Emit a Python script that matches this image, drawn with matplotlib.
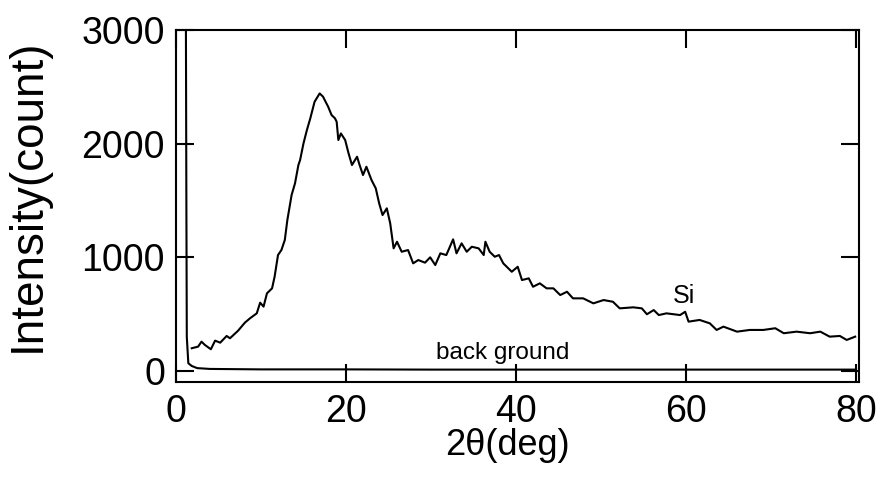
import numpy as np
import matplotlib
matplotlib.use("Agg")
import matplotlib.pyplot as plt

plt.rcParams['font.family'] = ['Liberation Sans', 'DejaVu Sans']

# Si sample curve
si_x = [1.85, 2.6, 3.0, 3.4, 4.1, 4.6, 5.2, 5.96, 6.35, 7.3, 8.1, 8.7, 9.5, 9.9,
        10.3, 10.7, 11.3, 11.6, 12.0, 12.4, 12.8, 13.1, 13.6, 14.0, 14.4, 14.6,
        15.0, 15.4, 15.8, 16.3, 16.9, 17.3, 17.5, 17.9, 18.3, 18.7, 18.9, 19.1,
        19.4, 19.9, 20.3, 20.7, 21.3, 21.6, 22.0, 22.4, 23.0, 23.5, 23.9, 24.3,
        24.8, 25.2, 25.6, 26.0, 26.55, 27.3, 27.9, 28.5, 29.3, 29.9, 30.5, 31.1,
        31.8, 32.6, 33.0, 33.6, 34.2, 34.8, 35.6, 36.2, 36.4, 36.9, 37.5, 38.0,
        38.5, 39.5, 40.2, 40.7, 41.5, 42.0, 42.8, 43.6, 44.4, 45.2, 46.0, 46.7,
        47.9, 49.1, 50.3, 51.4, 52.2, 53.8, 54.8, 55.4, 56.2, 56.8, 57.7, 59.3,
        59.9, 60.3, 61.6, 62.8, 63.6, 64.4, 66.0, 67.5, 69.1, 70.5, 71.5, 73.0,
        74.6, 75.8, 76.9, 78.1, 78.9, 79.9]
si_y = [200, 214, 258, 229, 191, 267, 249, 308, 288, 354, 425, 463, 507, 601,
        566, 683, 727, 829, 1020, 1064, 1152, 1328, 1548, 1651, 1812, 1856,
        2003, 2120, 2223, 2368, 2442, 2413, 2383, 2325, 2252, 2223, 2193, 2032,
        2090, 2032, 1915, 1812, 1885, 1812, 1724, 1797, 1680, 1607, 1475, 1372,
        1431, 1299, 1079, 1137, 1049, 1064, 947, 976, 953, 1000, 932, 1035,
        1020, 1158, 1035, 1123, 1049, 1093, 1079, 1020, 1137, 1049, 1005, 1020,
        947, 873, 917, 800, 815, 741, 771, 727, 727, 668, 697, 639,
        639, 595, 624, 609, 551, 560, 551, 499, 536, 492, 507, 492,
        521, 434, 449, 419, 361, 390, 346, 361, 361, 376, 332, 346,
        332, 346, 302, 308, 273, 302]

# background run (direct beam spike at low angle)
bg_x = [1.15, 1.22, 1.27, 1.45, 1.85, 2.5, 4, 10, 20, 30, 40, 50, 60, 70, 80]
bg_y = [3500, 1500, 300, 68, 44, 25, 18, 14, 14, 12, 12, 12, 12, 12, 12]

fig = plt.figure(figsize=(8.82, 4.86), dpi=100)
ax = fig.add_axes([176 / 882, 1 - 382 / 486, 683 / 882, 352 / 486])

ax.plot(si_x, si_y, color='black', lw=1.5)
ax.plot(bg_x, bg_y, color='black', lw=1.5)

ax.text(58.5, 598, 'Si', fontsize=18)
ax.text(30.6, 105, 'back ground', fontsize=17.5)

ax.set_xlim(0, 80.35)
ax.set_ylim(-97, 3000)
ax.set_xticks([0, 20, 40, 60, 80])
ax.set_yticks([0, 1000, 2000, 3000])

for s in ax.spines.values():
    s.set_linewidth(1.5)
ax.tick_params(direction='in', length=13, width=1.5, top=True, right=True,
               labelsize=27)
ax.tick_params(axis='y', pad=8)
ax.tick_params(axis='x', pad=9)

ax.set_xlabel('2θ(deg)', fontsize=26)
ax.xaxis.set_label_coords(0.485, -0.13)
ax.set_ylabel('Intensity(count)', fontsize=33)
ax.yaxis.set_label_coords(-0.185, 0.531)

fig.savefig('out.png', dpi=100)
